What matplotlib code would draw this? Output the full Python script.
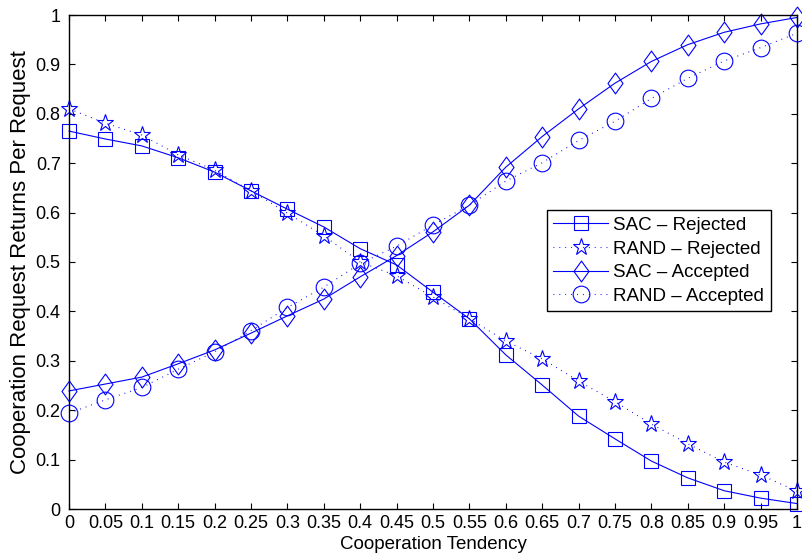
import matplotlib
matplotlib.use("Agg")
import matplotlib.pyplot as plt
from matplotlib.path import Path

# Cooperation tendency values and measured return rates
tendency = [0.0, 0.05, 0.1, 0.15, 0.2, 0.25, 0.3, 0.35, 0.4, 0.45, 0.5,
            0.55, 0.6, 0.65, 0.7, 0.75, 0.8, 0.85, 0.9, 0.95, 1.0]
sac_rejected = [0.765, 0.749, 0.735, 0.711, 0.682, 0.644, 0.607, 0.571, 0.527, 0.494, 0.439,
                0.385, 0.312, 0.251, 0.188, 0.142, 0.097, 0.063, 0.037, 0.022, 0.011]
rand_rejected = [0.810, 0.781, 0.757, 0.717, 0.686, 0.644, 0.599, 0.553, 0.500, 0.472, 0.429,
                 0.385, 0.340, 0.304, 0.259, 0.217, 0.172, 0.132, 0.095, 0.069, 0.036]
sac_accepted = [0.239, 0.253, 0.267, 0.294, 0.322, 0.356, 0.391, 0.425, 0.470, 0.513, 0.561,
                0.615, 0.692, 0.754, 0.810, 0.862, 0.906, 0.940, 0.965, 0.982, 0.995]
rand_accepted = [0.194, 0.221, 0.246, 0.283, 0.318, 0.361, 0.408, 0.449, 0.497, 0.532, 0.575,
                 0.615, 0.664, 0.701, 0.746, 0.785, 0.831, 0.872, 0.907, 0.934, 0.963]

xticks = [0.0, 0.05, 0.1, 0.15, 0.2, 0.25, 0.3, 0.35, 0.4, 0.45, 0.5,
          0.55, 0.6, 0.65, 0.7, 0.75, 0.8, 0.85, 0.9, 0.95, 1.0]
xtick_labels = ["0", "0.05", "0.1", "0.15", "0.2", "0.25", "0.3", "0.35", "0.4", "0.45", "0.5",
                "0.55", "0.6", "0.65", "0.7", "0.75", "0.8", "0.85", "0.9", "0.95", "1"]
yticks = [0.0, 0.1, 0.2, 0.3, 0.4, 0.5, 0.6, 0.7, 0.8, 0.9, 1.0]
ytick_labels = ["0", "0.1", "0.2", "0.3", "0.4", "0.5", "0.6", "0.7", "0.8", "0.9", "1"]

plt.rcParams["font.family"] = ["Liberation Sans", "DejaVu Sans"]

BLUE = "#0000ff"
DOTTED = (0, (0.8, 4.5))

# Tall diamond marker
diamond = Path([(0, 1), (0.72, 0), (0, -1), (-0.72, 0), (0, 1)],
               [Path.MOVETO, Path.LINETO, Path.LINETO, Path.LINETO, Path.CLOSEPOLY])

fig = plt.figure(figsize=(8.02, 5.59), dpi=100)
ax = fig.add_axes([69 / 802, 1 - 509 / 559, 728 / 802, 494 / 559])

common = dict(color=BLUE, lw=0.8, mfc="none", mec=BLUE, mew=0.8, clip_on=False)
ax.plot(tendency, sac_rejected, ls="-", marker="s", ms=10.5, label="SAC – Rejected", **common)
ax.plot(tendency, rand_rejected, ls=DOTTED, marker="*", ms=12.5, label="RAND – Rejected", **common)
ax.plot(tendency, sac_accepted, ls="-", marker=diamond, ms=15, label="SAC – Accepted", **common)
ax.plot(tendency, rand_accepted, ls=DOTTED, marker="o", ms=12, label="RAND – Accepted", **common)

ax.set_xlim(0, 1)
ax.set_ylim(0, 1)
ax.set_xticks(xticks)
ax.set_xticklabels(xtick_labels)
ax.set_yticks(yticks)
ax.set_yticklabels(ytick_labels)
ax.tick_params(direction="in", length=4, width=0.8, top=True, right=True,
               labelsize=13, colors="black")
ax.tick_params(axis="x", pad=4)
ax.tick_params(axis="y", pad=6)
for sp in ax.spines.values():
    sp.set_linewidth(1.0)
    sp.set_color("black")

ax.set_xlabel("Cooperation Tendency", fontsize=13.5, labelpad=3)
ax.set_ylabel("Cooperation Request Returns Per Request", fontsize=16, labelpad=3)

leg = ax.legend(loc="upper right", bbox_to_anchor=(0.964, 0.605), fontsize=13.5,
                frameon=True, fancybox=False, edgecolor="black", framealpha=1,
                handlelength=2.9, handletextpad=0.3, labelspacing=0.35,
                borderpad=0.35, borderaxespad=0)
leg.get_frame().set_linewidth(1.0)

fig.savefig("out.png", dpi=100)
